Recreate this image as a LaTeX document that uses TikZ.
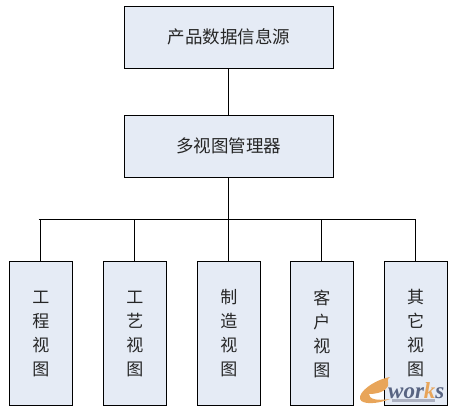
\documentclass[tikz,border=0pt]{standalone}
\usepackage{fontspec}
\setmainfont{Liberation Serif}
\newfontfamily\cjk{Noto Sans CJK SC}[Scale=1]
\definecolor{boxfill}{RGB}{229,235,245}
\definecolor{wmblue}{RGB}{88,100,130}
\definecolor{wmorange}{RGB}{232,165,90}
\tikzset{
  x=1pt,y=-1pt,
  hbox/.style={draw=black,line width=1pt,fill=boxfill,minimum width=209pt,minimum height=61.5pt,inner sep=0pt,font=\cjk\fontsize{17.5}{17.5}\selectfont,text=black!85},
  vbox/.style={draw=black,line width=1pt,fill=boxfill,minimum width=63pt,minimum height=144.4pt,inner sep=0pt,font=\cjk\fontsize{17}{24}\selectfont,text=black!85,align=center},
  wire/.style={draw=black,line width=1pt}
}
\begin{document}
\begin{tikzpicture}
\useasboundingbox (0,0) rectangle (455,413);
\node[hbox] (src) at (228.8,37.3) {产品数据信息源};
\node[hbox] (mgr) at (228.8,146.3) {多视图管理器};
\node[vbox] (v1) at (40.8,333.5) {工\\程\\视\\图};
\node[vbox] (v2) at (134.8,333.5) {工\\艺\\视\\图};
\node[vbox] (v3) at (228.8,333.5) {制\\造\\视\\图};
\node[vbox] (v4) at (321.8,333.5) {客\\户\\视\\图};
\node[vbox] (v5) at (415.7,333.5) {其\\它\\视\\图};
\coordinate (bus) at (228.8,219.3);
\coordinate (busleft) at (38.5,219.3);
\draw[wire] (src) -- (mgr);
\draw[wire] (mgr) -- (bus);
\draw[wire] (busleft) -- (v5.north |- bus) -- (v5.north);
\draw[wire] (v1.north) -- (v1.north |- bus);
\draw[wire] (v2.north) -- (v2.north |- bus);
\draw[wire] (v3.north) -- (v3.north |- bus);
\draw[wire] (v4.north) -- (v4.north |- bus);
% e-works watermark
\fill[wmorange] (390,377) .. controls (374,380) and (358,392) .. (360,399) .. controls (362,405) and (378,404) .. (390,399) .. controls (376,401) and (369,399) .. (369,394) .. controls (378,394) and (386,391) .. (388,386) .. controls (389,382) and (386,379) .. (390,377) -- cycle;
\node[inner sep=0pt,anchor=base west,font=\fontsize{23}{23}\selectfont\bfseries\itshape] (wm) at (388,398) {\textcolor{wmblue}{wor}\textcolor{wmorange}{k}\textcolor{wmblue}{s}};
\fill[wmblue!50] (392,399) rectangle (435,402);
\end{tikzpicture}
\end{document}
